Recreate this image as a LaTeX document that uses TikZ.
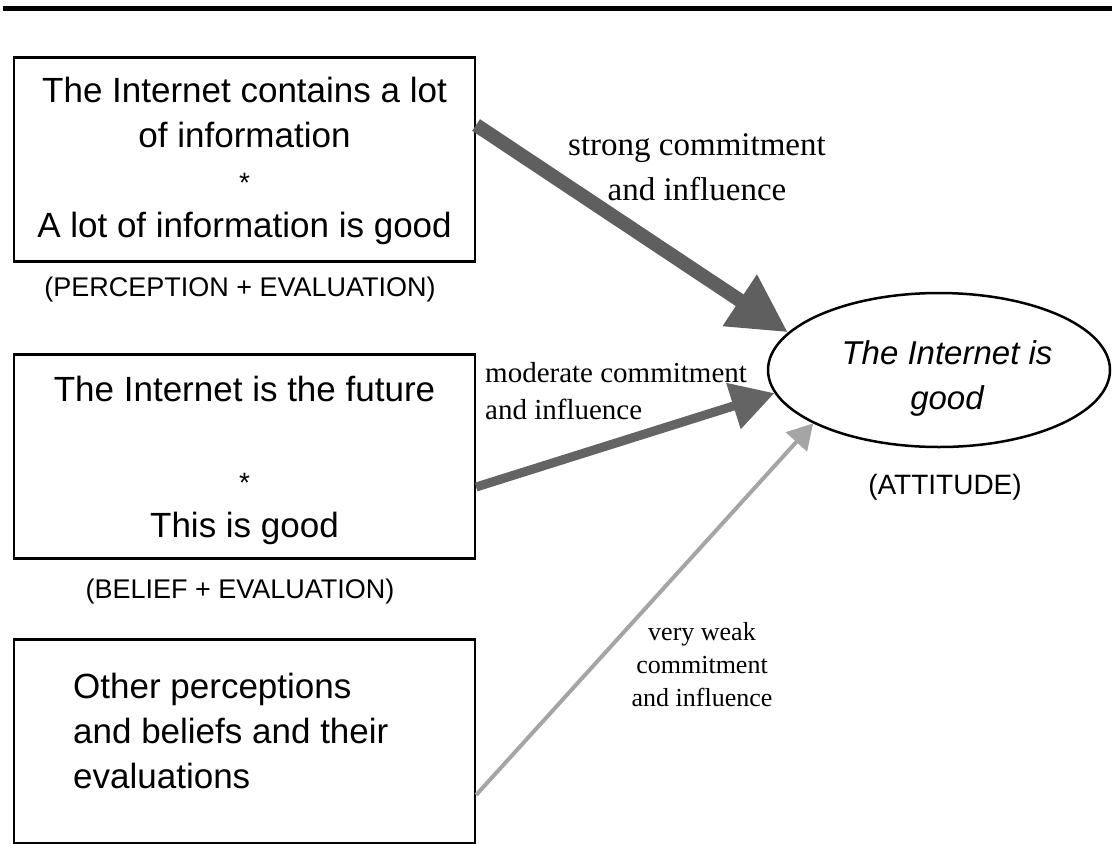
\documentclass[tikz,border=0pt]{standalone}
\usepackage{fontspec}
\setmainfont{Liberation Serif}
\setsansfont{Liberation Sans}
\usepackage{tikz}
\usetikzlibrary{shapes.geometric, arrows.meta, positioning}
\definecolor{strongcolor}{RGB}{95, 95, 95}
\definecolor{modcolor}{RGB}{100, 100, 100}
\definecolor{weakcolor}{RGB}{165, 165, 165}

\begin{document}
\begin{tikzpicture}[x=1pt, y=-1pt,
        box/.style={rectangle, draw, line width=2.2pt, minimum width=461pt, minimum height=204pt, inner sep=0pt},
        boxtext/.style={font=\sffamily\fontsize{35pt}{45pt}\selectfont, inner sep=0pt},
        tag/.style={font=\sffamily\fontsize{27pt}{30pt}\selectfont, inner sep=0pt},
        attitude/.style={ellipse, draw, line width=2.5pt, minimum width=342pt, minimum height=154pt, inner sep=0pt},
        strongarrow/.style={line width=14pt, strongcolor, -{Triangle[length=58pt, width=58pt]}},
        modarrow/.style={line width=9pt, modcolor, -{Triangle[length=43pt, width=46pt]}},
        weakarrow/.style={line width=4pt, weakcolor, -{Triangle[length=25pt, width=28pt]}}
    ]
        \useasboundingbox (0,0) rectangle (1112,844);

        % Rule on top
        \draw[line width=5pt] (3,8) -- (1112,8);

        % Perception box
        \node[box] (perc) at (244.5,159.5) {};
        \node[boxtext, align=center] (perctext) at (244.5,161) {The Internet contains a lot\\of information\\{\fontsize{28pt}{45pt}\selectfont *}\\A lot of information is good};
        \node[tag] (perctag) at (240,290) {(PERCEPTION + EVALUATION)};

        % Belief box
        \node[box] (belief) at (244.5,456.5) {};
        \node[boxtext, align=center] (belieftext) at (244.5,460) {The Internet is the future\\[46pt]{\fontsize{28pt}{45pt}\selectfont *}\\This is good};
        \node[tag] (belieftag) at (240,592) {(BELIEF + EVALUATION)};

        % Other box
        \node[box] (other) at (244.5,741.5) {};
        \node[boxtext, align=left, anchor=west] (othertext) at (73,731) {Other perceptions\\and beliefs and their\\evaluations};

        % Attitude
        \node[attitude] (att) at (939,370) {};
        \node[font=\sffamily\itshape\fontsize{33pt}{45pt}\selectfont, align=center, inner sep=0pt] (atttext) at (947,378) {The Internet is\\good};
        \node[font=\sffamily\fontsize{28pt}{30pt}\selectfont, inner sep=0pt] (atttag) at (945,487) {(ATTITUDE)};

        % Arrows
        \draw[strongarrow] ([yshift=34.5pt]perc.east) -- (att.166);
        \draw[modarrow] ([yshift=-30.5pt]belief.east) -- (att.188.6);
        \draw[weakarrow] ([yshift=-53.5pt]other.east) -- (att.203.6);

        % Arrow labels
        \node[font=\fontsize{33pt}{45pt}\selectfont, align=center, inner sep=0pt] (stronglbl) at (697,167) {strong commitment\\and influence};
        \node[font=\fontsize{29pt}{37pt}\selectfont, align=left, anchor=west, inner sep=0pt] (modlbl) at (485,391) {moderate commitment\\and influence};
        \node[font=\fontsize{26pt}{33pt}\selectfont, align=center, inner sep=0pt] (weaklbl) at (702,665) {very weak\\commitment\\and influence};

    \end{tikzpicture}
\end{document}
